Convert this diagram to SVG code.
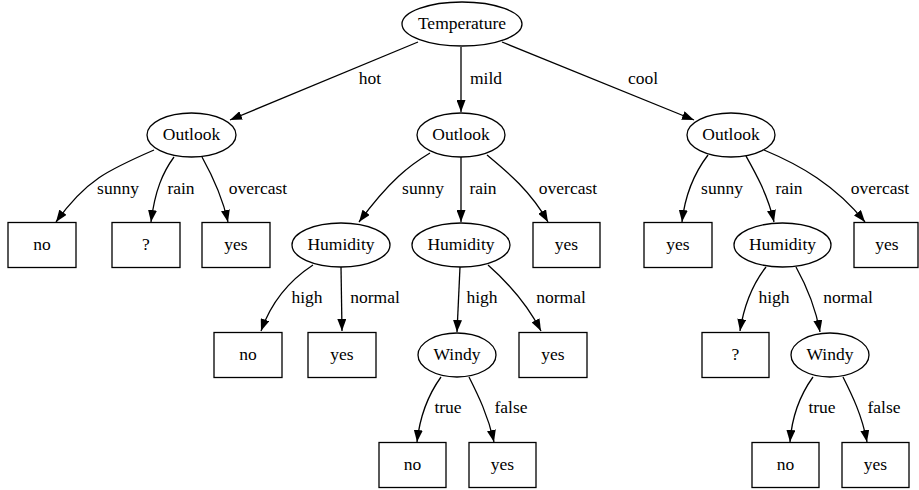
<svg xmlns="http://www.w3.org/2000/svg" width="919" height="490" viewBox="0 0 919 490">
<style>
.n ellipse, .n rect { fill: #fff; stroke: #000; stroke-width: 1.3; }
text { font-family: "Liberation Serif", "Times New Roman", serif; font-size: 17.5px; fill: #000; text-anchor: middle; }
.e path { fill: none; stroke: #000; stroke-width: 1.3; marker-end: url(#arr); }
</style>
<defs>
<marker id="arr" markerUnits="userSpaceOnUse" markerWidth="12" markerHeight="9" refX="12" refY="4.5" orient="auto" viewBox="0 0 12 9">
<path d="M0,0 L12,4.5 L0,9 z" fill="#000"/>
</marker>
</defs>
<rect width="919" height="490" fill="#fff"/>
<g class="e" id="edges">
<path d="M418,42 L230,120"/>
<path d="M461,47 L461,112"/>
<path d="M502,42 L694,120"/>
<path d="M154,150 C108,170 86,180 56,222"/>
<path d="M174,157 C163,172 155,190 151,222"/>
<path d="M202,157 C212,175 222,195 228,222"/>
<path d="M430,153 C410,165 390,180 359,222"/>
<path d="M461,157 L461,222"/>
<path d="M487,155 C505,170 530,190 548,222"/>
<path d="M708,155 C695,172 685,195 682,222"/>
<path d="M746,156 C755,172 768,195 774,222"/>
<path d="M764,150 C800,165 835,185 865,222"/>
<path d="M313,265 C290,280 272,300 261,331"/>
<path d="M341,267 L342,331"/>
<path d="M460,267 L457,332"/>
<path d="M488,265 C505,280 525,300 541,331"/>
<path d="M441,377 C428,395 420,415 417,442"/>
<path d="M469,377 C478,395 488,415 494,442"/>
<path d="M766,267 C752,285 744,305 740,331"/>
<path d="M796,267 C806,285 815,305 820,332"/>
<path d="M813,377 C800,395 792,415 790,442"/>
<path d="M843,377 C852,395 862,415 867,442"/>
</g>
<g id="edge-labels">
<text x="370" y="84">hot</text>
<text x="486" y="84">mild</text>
<text x="643" y="84">cool</text>
<text x="118" y="194">sunny</text>
<text x="181" y="194">rain</text>
<text x="258" y="194">overcast</text>
<text x="423" y="194">sunny</text>
<text x="483" y="194">rain</text>
<text x="568" y="194">overcast</text>
<text x="722" y="194">sunny</text>
<text x="789" y="194">rain</text>
<text x="880" y="194">overcast</text>
<text x="307" y="303">high</text>
<text x="375" y="303">normal</text>
<text x="482" y="303">high</text>
<text x="561" y="303">normal</text>
<text x="774" y="303">high</text>
<text x="848" y="303">normal</text>
<text x="448" y="413">true</text>
<text x="511" y="413">false</text>
<text x="822" y="413">true</text>
<text x="884" y="413">false</text>
</g>
<g class="n" id="temperature"><ellipse cx="462" cy="24" rx="60" ry="22"/><text x="462" y="29">Temperature</text></g>
<g class="n" id="outlook-hot"><ellipse cx="191.5" cy="135" rx="44.5" ry="22"/><text x="191.5" y="140">Outlook</text></g>
<g class="n" id="outlook-mild"><ellipse cx="461" cy="135" rx="44" ry="22"/><text x="461" y="140">Outlook</text></g>
<g class="n" id="outlook-cool"><ellipse cx="731" cy="135" rx="44" ry="22"/><text x="731" y="140">Outlook</text></g>
<g class="n" id="hot-sunny"><rect x="8" y="222.5" width="68" height="45"/><text x="42" y="250">no</text></g>
<g class="n" id="hot-rain"><rect x="112" y="222.5" width="68" height="45"/><text x="146" y="250">?</text></g>
<g class="n" id="hot-overcast"><rect x="202" y="222.5" width="68" height="45"/><text x="236" y="250">yes</text></g>
<g class="n" id="humidity-mild-sunny"><ellipse cx="341" cy="245" rx="49" ry="22"/><text x="341" y="250">Humidity</text></g>
<g class="n" id="humidity-mild-rain"><ellipse cx="461" cy="245" rx="49" ry="22"/><text x="461" y="250">Humidity</text></g>
<g class="n" id="mild-overcast"><rect x="533" y="222.5" width="67" height="45"/><text x="566.5" y="250">yes</text></g>
<g class="n" id="cool-sunny"><rect x="644" y="222.5" width="68" height="45"/><text x="678" y="250">yes</text></g>
<g class="n" id="humidity-cool-rain"><ellipse cx="782.5" cy="245" rx="48.5" ry="22"/><text x="782.5" y="250">Humidity</text></g>
<g class="n" id="cool-overcast"><rect x="854" y="222.5" width="64" height="45"/><text x="887" y="250">yes</text></g>
<g class="n" id="ms-high"><rect x="214" y="332.5" width="68" height="45"/><text x="248" y="360">no</text></g>
<g class="n" id="ms-normal"><rect x="308" y="332.5" width="68" height="45"/><text x="342" y="360">yes</text></g>
<g class="n" id="windy-mild"><ellipse cx="457" cy="355" rx="39" ry="22"/><text x="457" y="360">Windy</text></g>
<g class="n" id="mr-normal"><rect x="519" y="332.5" width="68" height="45"/><text x="553" y="360">yes</text></g>
<g class="n" id="cr-high"><rect x="702" y="332.5" width="67" height="45"/><text x="735.5" y="360">?</text></g>
<g class="n" id="windy-cool"><ellipse cx="830" cy="355" rx="39" ry="22"/><text x="830" y="360">Windy</text></g>
<g class="n" id="wm-true"><rect x="379" y="442.5" width="67" height="45"/><text x="412.5" y="470">no</text></g>
<g class="n" id="wm-false"><rect x="469" y="442.5" width="67" height="45"/><text x="502.5" y="470">yes</text></g>
<g class="n" id="wc-true"><rect x="752" y="442.5" width="67" height="45"/><text x="785.5" y="470">no</text></g>
<g class="n" id="wc-false"><rect x="842" y="442.5" width="67" height="45"/><text x="875.5" y="470">yes</text></g>
</svg>
